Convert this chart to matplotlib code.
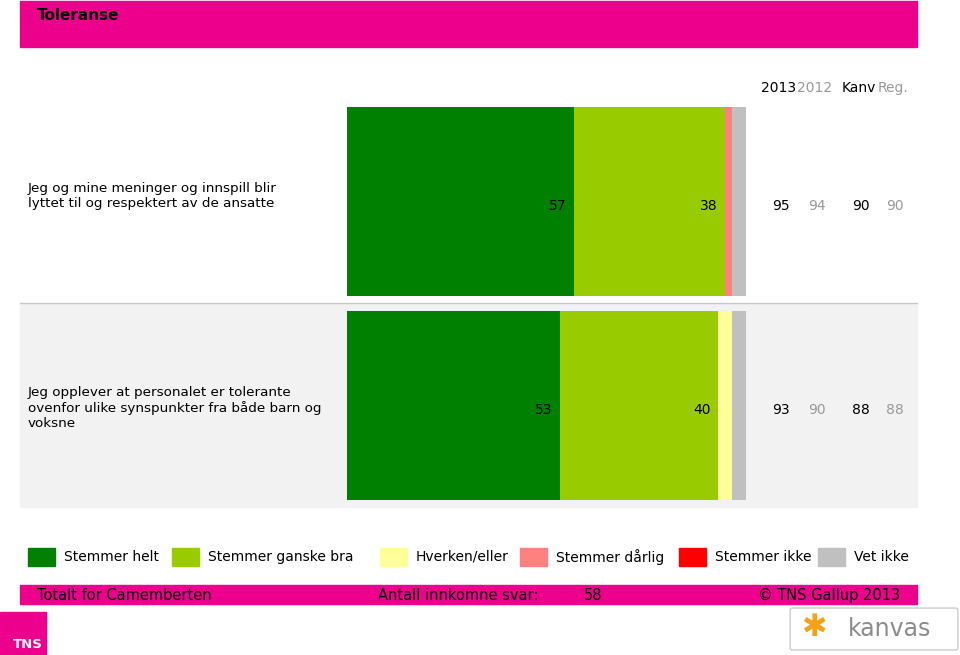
import matplotlib
matplotlib.use("Agg")
import matplotlib.pyplot as plt
from matplotlib.patches import Rectangle, FancyBboxPatch
import numpy as np

plt.rcParams['font.family'] = ['DejaVu Sans']

# data
title = "Toleranse"
statements = [
    "Jeg og mine meninger og innspill blir\nlyttet til og respektert av de ansatte",
    "Jeg opplever at personalet er tolerante\novenfor ulike synspunkter fra både barn og\nvoksne",
]
categories = ["Stemmer helt", "Stemmer ganske bra", "Hverken/eller",
              "Stemmer dårlig", "Stemmer ikke", "Vet ikke"]
colors = ["#008000", "#99CC00", "#FFFF99", "#FF8080", "#FF0000", "#C0C0C0"]
shares = np.array([
    [56.9, 37.9, 0.0, 1.7, 0.0, 3.4],
    [53.4, 39.7, 3.4, 0.0, 0.0, 3.4],
])
shown_labels = [["57", "38"], ["53", "40"]]
col_heads = ["2013", "2012", "Kanv", "Reg."]
col_values = [[95, 94, 90, 90], [93, 90, 88, 88]]
n_answers = 58

W, H = 960, 655
MAGENTA = "#EC008C"
fig = plt.figure(figsize=(W / 100, H / 100), dpi=100)


def fx(x):
    return x / W


def fy(y):
    return 1 - y / H


def box(x0, y0, x1, y1, **kw):
    fig.patches.append(Rectangle((fx(x0), fy(y1)), fx(x1) - fx(x0), fy(y0) - fy(y1),
                                 transform=fig.transFigure, **kw))


# header
box(20, 1, 917, 47, color=MAGENTA, zorder=0)
fig.text(fx(37), fy(15), title, fontsize=11, fontweight='bold', va='center')

head_x = [779, 815, 859, 893]
head_c = ["black", "#999999", "black", "#999999"]
for x, t, c in zip(head_x, col_heads, head_c):
    fig.text(fx(x), fy(88), t, fontsize=10, color=c, ha='center', va='center')

# row backgrounds
box(20, 304, 917, 507, color="#F2F2F2", zorder=0)
fig.lines.append(plt.Line2D([fx(20), fx(917)], [fy(303), fy(303)],
                            transform=fig.transFigure, color="#C8C8C8", lw=1))

# bars
ax = fig.add_axes([fx(347), fy(507.5), fx(746) - fx(347), (507.5 - 99.5) / H])
ax.set_zorder(3)
ax.patch.set_visible(False)
ax.set_xlim(0, 100)
ax.set_ylim(1.5, -0.5)
ax.axis('off')
rows = np.arange(len(statements))
left = np.zeros(len(statements))
for j, (cat, col) in enumerate(zip(categories, colors)):
    ax.barh(rows, shares[:, j], left=left, height=189 / 204, color=col,
            edgecolor='none', label=cat)
    for i in rows:
        if j < len(shown_labels[i]):
            ax.annotate(shown_labels[i][j], (left[i] + shares[i, j], i),
                        xytext=(-8, -4), textcoords='offset pixels',
                        ha='right', va='center', fontsize=10)
    left += shares[:, j]

row_y = [201.5, 405.5]
label_y = [196, 408]
for i, (stmt, y, ly) in enumerate(zip(statements, row_y, label_y)):
    fig.text(fx(28), fy(ly), stmt, fontsize=9.7, va='center', linespacing=1.2)
    for x, v, c in zip(head_x, col_values[i], head_c):
        fig.text(fx(x + 2), fy(y + 4), str(v), fontsize=10, color=c,
                 ha='center', va='center')

# legend
leg_sq = [28, 172, 380, 520, 679, 818]
for x, cat, col in zip(leg_sq, categories, colors):
    box(x, 548, x + 27, 566, color=col)
    fig.text(fx(x + 36), fy(557), cat, fontsize=10, va='center')

# footer
box(20, 585, 917, 604, color=MAGENTA, zorder=0)
fig.text(fx(37), fy(595), "Totalt for Camemberten", fontsize=10.5, va='center')
fig.text(fx(378), fy(595), "Antall innkomne svar:", fontsize=10.5, va='center')
fig.text(fx(584), fy(595), str(n_answers), fontsize=10.5, va='center')
fig.text(fx(900), fy(595), "© TNS Gallup 2013", fontsize=10.5, va='center', ha='right')

# logos
box(0, 612, 46, 655, color=MAGENTA)
fig.text(fx(28), fy(645), "TNS", fontsize=9.5, color='white', fontweight='bold',
         va='center', ha='center')
fig.patches.append(FancyBboxPatch((fx(793), fy(648)), fx(162), 38 / H,
                                  boxstyle="round,pad=0.003", transform=fig.transFigure,
                                  facecolor='white', edgecolor='#CCCCCC', lw=1))
fig.text(fx(814), fy(628), "✱", fontsize=22, color="#F7A11A", ha='center', va='center')
fig.text(fx(890), fy(629), "kanvas", fontsize=17, color="#8C8C8C", ha='center', va='center')

fig.savefig("out.png", dpi=100)
